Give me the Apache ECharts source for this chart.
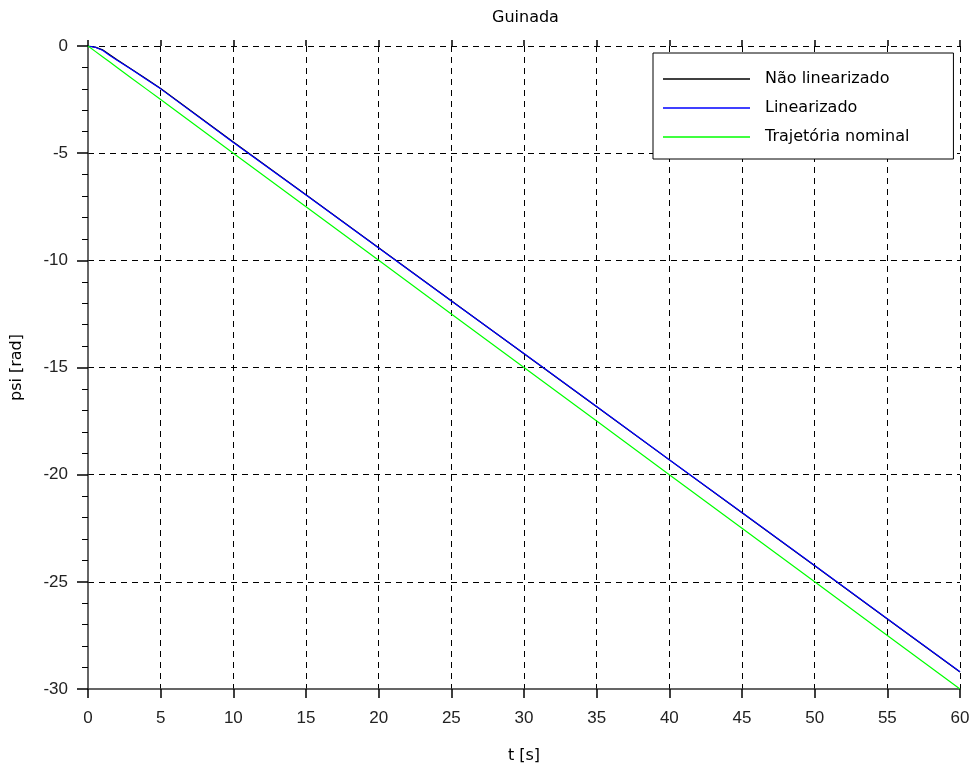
<!DOCTYPE html>
<html>
<head>
<meta charset="utf-8">
<script src="https://cdn.jsdelivr.net/npm/echarts@6/dist/echarts.min.js"></script>
<style>
  html, body { margin: 0; padding: 0; background: #fff; }
  #chart { width: 973px; height: 769px; }
</style>
</head>
<body>
<div id="chart"></div>
<script>
// Yaw angle (psi) over time: nonlinear model, linearized model, nominal trajectory
const time = [0, 0.5, 1, 1.5, 2, 3, 4, 5, 10, 15, 20, 25, 30, 35, 40, 45, 50, 55, 60];
const psiNonLinear = [0, -0.05, -0.18, -0.41, -0.64, -1.08, -1.53, -1.98, -4.48, -6.94, -9.41, -11.89, -14.36, -16.83, -19.31, -21.78, -24.25, -26.73, -29.21];
const psiLinear    = [0, -0.06, -0.2, -0.44, -0.66, -1.1, -1.55, -2.0, -4.5, -6.95, -9.42, -11.9, -14.35, -16.82, -19.3, -21.77, -24.24, -26.72, -29.2];
const psiNominal   = [0, -0.25, -0.5, -0.75, -1, -1.5, -2, -2.5, -5, -7.5, -10, -12.5, -15, -17.5, -20, -22.5, -25, -27.5, -30];

const seriesNames = ['Não linearizado', 'Linearizado', 'Trajetória nominal'];
const seriesColors = ['#000000', '#0000ff', '#00ff00'];

const pairs = (ys) => time.map((t, i) => [t, ys[i]]);

const TEXT_FONT = 'DejaVu Sans';
const TICK_FONT = 'Liberation Sans';

const chart = echarts.init(document.getElementById('chart'), null, { renderer: 'canvas' });

chart.setOption({
  animation: false,
  backgroundColor: '#ffffff',
  title: {
    text: 'Guinada',
    left: 487,
    top: 5,
    textStyle: { fontFamily: TEXT_FONT, fontSize: 16, fontWeight: 'normal', color: '#000' }
  },
  legend: {
    orient: 'vertical',
    left: 653,
    top: 53,
    data: seriesNames.map((n) => ({ name: n, icon: 'rect' })),
    itemWidth: 87,
    itemHeight: 1.5,
    itemGap: 13,
    padding: [18, 44, 14, 10],
    backgroundColor: '#ffffff',
    borderColor: '#000000',
    borderWidth: 1,
    borderRadius: 0,
    textStyle: { fontFamily: TEXT_FONT, fontSize: 16, lineHeight: 16, color: '#000', padding: [0, 0, 0, 10] }
  },
  grid: { left: 88, right: 13, top: 46, bottom: 79 },
  xAxis: [{
    type: 'value',
    min: 0, max: 60, interval: 5,
    name: 't [s]',
    nameLocation: 'middle',
    nameGap: 59,
    nameTextStyle: { fontFamily: TEXT_FONT, fontSize: 16, color: '#000' },
    axisLine: { show: true, onZero: false, lineStyle: { color: '#333', width: 1.5 } },
    axisTick: { show: true, length: 9, lineStyle: { color: '#000', width: 1.5 } },
    axisLabel: { margin: 21, fontFamily: TICK_FONT, fontSize: 17, color: '#222' },
    splitLine: { show: true, showMinLine: false, showMaxLine: true, lineStyle: { color: '#000', type: [6, 5], width: 1 } }
  }, {
    // upward half of the crossing ticks on the bottom axis
    type: 'value',
    position: 'bottom',
    min: 0, max: 60, interval: 5,
    axisLine: { show: false },
    axisTick: { show: true, inside: true, length: 6, lineStyle: { color: '#000', width: 1.5 } },
    axisLabel: { show: false },
    splitLine: { show: false }
  }],
  yAxis: {
    type: 'value',
    min: -30, max: 0, interval: 5,
    name: 'psi [rad]',
    nameLocation: 'middle',
    nameGap: 63,
    nameTextStyle: { fontFamily: TEXT_FONT, fontSize: 16, color: '#000' },
    axisLine: { show: true, onZero: false, lineStyle: { color: '#333', width: 1.5 } },
    axisTick: { show: true, length: 11, lineStyle: { color: '#000', width: 1.5 } },
    minorTick: { show: true, splitNumber: 5, length: 6, lineStyle: { color: '#000', width: 1 } },
    axisLabel: { margin: 20, fontFamily: TICK_FONT, fontSize: 17, color: '#222' },
    splitLine: { show: true, showMinLine: false, showMaxLine: true, lineStyle: { color: '#000', type: [6, 5], width: 1 } }
  },
  series: seriesNames.map((name, k) => ({
    name,
    type: 'line',
    xAxisIndex: 0,
    data: pairs([psiNonLinear, psiLinear, psiNominal][k]),
    smooth: false,
    showSymbol: false,
    symbol: 'none',
    color: seriesColors[k],
    lineStyle: { color: seriesColors[k], width: 1.2 },
    z: 3 + k
  }))
});
</script>
</body>
</html>
